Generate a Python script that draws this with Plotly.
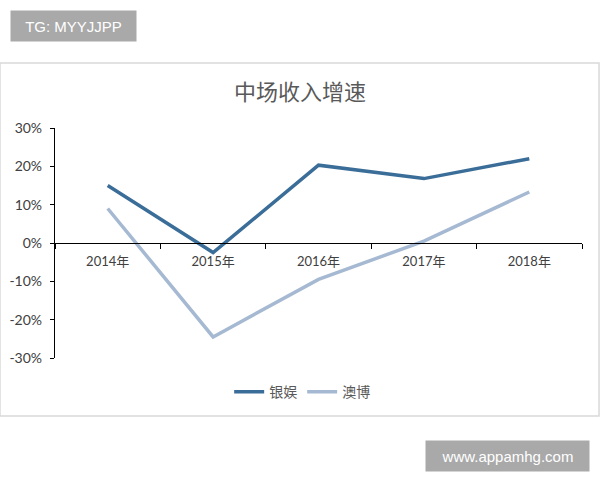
import plotly.graph_objects as go

# 数据
years = ['2014年', '2015年', '2016年', '2017年', '2018年']
yinyu = [15.0, -2.5, 20.3, 16.8, 22.0]
aobo = [9.0, -24.5, -9.5, 0.5, 13.3]
yticks = [-30, -20, -10, 0, 10, 20, 30]

fig = go.Figure()
fig.add_trace(go.Scatter(x=years, y=yinyu, name='银娱', mode='lines',
                         line=dict(color='#3b6d99', width=3.5)))
fig.add_trace(go.Scatter(x=years, y=aobo, name='澳博', mode='lines',
                         line=dict(color='#a6b9d2', width=3.5)))

# 外框
fig.add_shape(type='rect', xref='paper', yref='paper',
              x0=-0.1044, x1=1.0323, y0=-0.252, y1=1.283,
              line=dict(color='#d9d9d9', width=1.5), layer='below')

# 水印
fig.add_annotation(text='TG: MYYJJPP', xref='paper', yref='paper',
                   x=-0.0854, xanchor='left', y=1.513, yanchor='top',
                   width=121, height=26, bgcolor='#a9a9a9', borderpad=2,
                   showarrow=False,
                   font=dict(color='white', size=15, family='Liberation Sans'))
fig.add_annotation(text='www.appamhg.com', xref='paper', yref='paper',
                   x=1.0152, xanchor='right', y=-0.3565, yanchor='top',
                   width=159, height=26, bgcolor='#a9a9a9', borderpad=2,
                   showarrow=False,
                   font=dict(color='white', size=15, family='Liberation Sans'))

fig.update_layout(
    width=600, height=480,
    paper_bgcolor='white', plot_bgcolor='white',
    margin=dict(l=55, r=18, t=128, b=122, autoexpand=False),
    font=dict(family='Lato, Noto Sans CJK SC', size=13, color='#404040'),
    title=dict(text='中场收入增速', x=0.5, xanchor='center', y=1 - 92 / 480,
               yanchor='middle',
               font=dict(size=22, color='#595959', family='Noto Sans CJK SC')),
    legend=dict(orientation='h', x=0.469, xanchor='center', y=-0.148,
                yanchor='middle', font=dict(size=14, color='#595959',
                                            family='Noto Sans CJK SC')),
    showlegend=True,
)
fig.update_xaxes(type='category', range=[-0.5, 4.5], anchor='free', position=0.5,
                 showline=True, linecolor='black', linewidth=1.2,
                 ticks='outside', tickson='boundaries', ticklen=5,
                 tickcolor='black', showgrid=False, zeroline=False,
                 ticklabelstandoff=6,
                 tickfont=dict(size=13, color='#404040'))
fig.update_yaxes(range=[-30, 30], tickvals=yticks,
                 ticktext=[f'{v}%' for v in yticks],
                 showline=True, linecolor='black', linewidth=1.2,
                 ticks='outside', ticklen=4, tickcolor='black',
                 showgrid=False, zeroline=False, ticklabelstandoff=5,
                 tickfont=dict(size=14, color='#404040'))

# 去掉页面默认边距
fig.write_html('out.html', config={'displayModeBar': False},
               post_script="document.body.style.margin='0';")
